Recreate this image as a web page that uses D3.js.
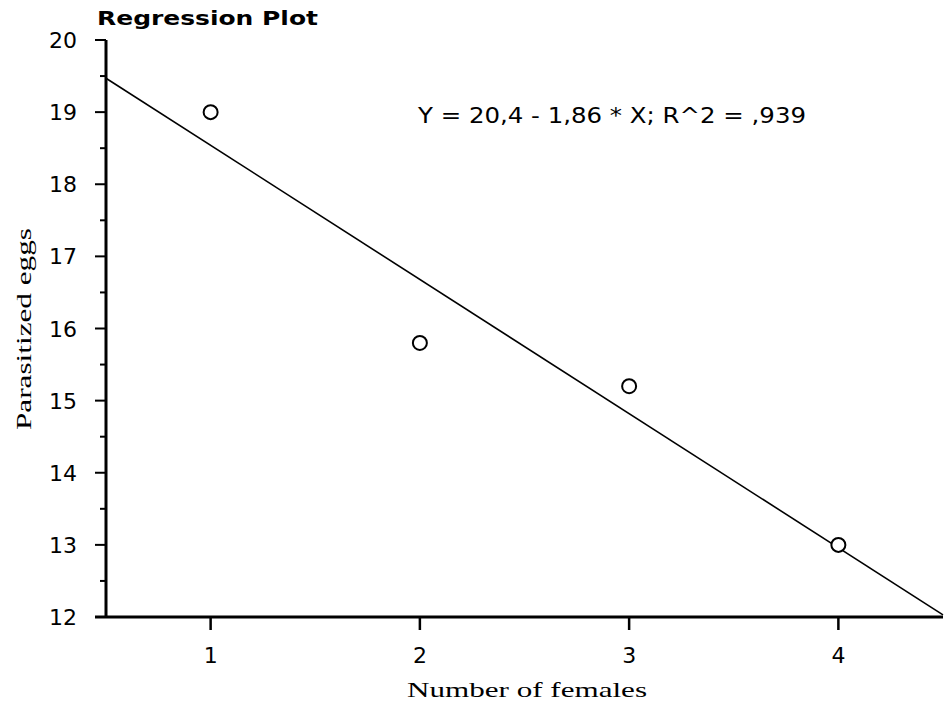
<!DOCTYPE html>
<html><head><meta charset="utf-8">
<script src="https://cdn.jsdelivr.net/npm/d3@7"></script>
<style>body{margin:0;background:#fff}</style>
</head><body>
<svg id="c" width="945" height="708"></svg>
<script>
const xValues = [1, 2, 3, 4];
const yValues = [19, 15.8, 15.2, 13];
const xTicks = [1, 2, 3, 4];
const yTicks = [12, 13, 14, 15, 16, 17, 18, 19, 20];
const intercept = 20.4, slope = -1.86;
const equationText = "Y = 20,4 - 1,86 * X; R^2 = ,939";

const svg = d3.select("#c");
const x = d3.scaleLinear().domain([0.5, 4.5]).range([106, 943]);
const y = d3.scaleLinear().domain([12, 20]).range([617, 40]);
const sans = "DejaVu Sans, sans-serif";

svg.append("text").attr("x", 97).attr("y", 25)
  .attr("font-family", sans).attr("font-weight", "bold")
  .attr("font-size", 20).attr("textLength", 221).attr("lengthAdjust", "spacingAndGlyphs")
  .text("Regression Plot");

// y axis
const ya = svg.append("g").attr("transform", "translate(106,0)");
ya.append("line").attr("y1", y(20)).attr("y2", y(12)).attr("stroke", "#000").attr("stroke-width", 3);
const minor = d3.range(12.5, 20, 1);
ya.selectAll(".mn").data(minor).join("line").attr("x1", -6).attr("x2", 0)
  .attr("y1", d => y(d)).attr("y2", d => y(d)).attr("stroke", "#000").attr("stroke-width", 2);
ya.selectAll(".mj").data(yTicks).join("line").attr("x1", -11).attr("x2", 0)
  .attr("y1", d => y(d)).attr("y2", d => y(d)).attr("stroke", "#000").attr("stroke-width", 2);
ya.selectAll(".lb").data(yTicks).join("text").attr("x", -29).attr("y", d => y(d) + 8)
  .attr("text-anchor", "end").attr("font-family", sans).attr("font-size", 22)
  .text(d => d);

// x axis
const xa = svg.append("g").attr("transform", "translate(0,617)");
xa.append("line").attr("x1", 95).attr("x2", 943).attr("stroke", "#000").attr("stroke-width", 3);
xa.selectAll(".mj").data(xTicks).join("line").attr("x1", d => x(d)).attr("x2", d => x(d))
  .attr("y1", 0).attr("y2", 13).attr("stroke", "#000").attr("stroke-width", 2.5);
xa.selectAll(".lb").data(xTicks).join("text").attr("x", d => x(d)).attr("y", 46)
  .attr("text-anchor", "middle").attr("font-family", sans).attr("font-size", 22)
  .text(d => d);

// regression line
const dom = x.domain();
svg.append("line").attr("x1", x(dom[0])).attr("y1", y(intercept + slope * dom[0]))
  .attr("x2", x(dom[1])).attr("y2", y(intercept + slope * dom[1]))
  .attr("stroke", "#000").attr("stroke-width", 1.6);

// points
svg.selectAll(".pt").data(xValues.map((v, i) => [v, yValues[i]])).join("circle")
  .attr("cx", d => x(d[0])).attr("cy", d => y(d[1])).attr("r", 7)
  .attr("fill", "#fff").attr("stroke", "#000").attr("stroke-width", 2);

svg.append("text").attr("x", 418).attr("y", 123)
  .attr("font-family", sans).attr("font-size", 21)
  .attr("textLength", 388).attr("lengthAdjust", "spacingAndGlyphs").text(equationText);

svg.append("text").attr("x", 407).attr("y", 697)
  .attr("font-family", "Liberation Serif, serif").attr("font-size", 22)
  .attr("textLength", 240).attr("lengthAdjust", "spacingAndGlyphs").text("Number of females");
svg.append("text").attr("transform", "translate(31,430) rotate(-90)")
  .attr("font-family", "Liberation Serif, serif").attr("font-size", 22)
  .attr("textLength", 202).attr("lengthAdjust", "spacingAndGlyphs").text("Parasitized eggs");
</script>
</body></html>
